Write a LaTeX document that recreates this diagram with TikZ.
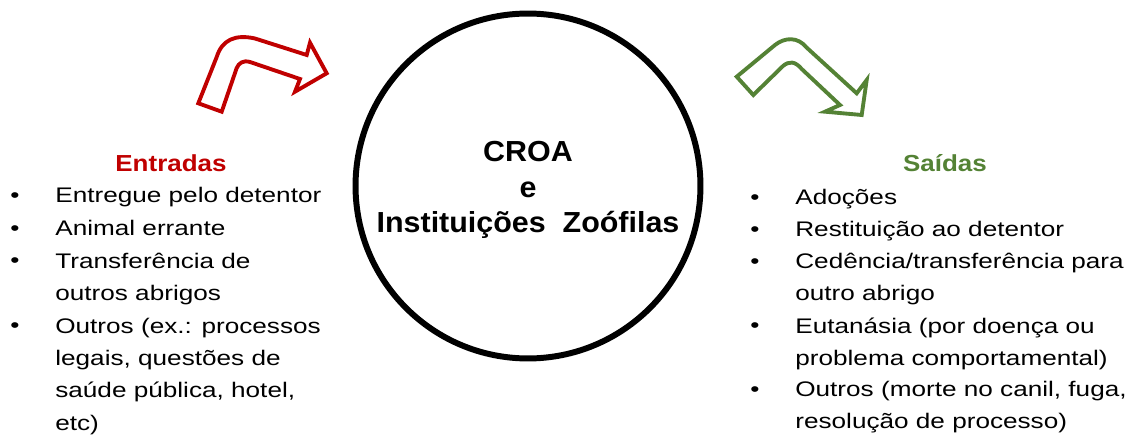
\documentclass[tikz,border=0pt]{standalone}
\usepackage{fontspec}
\setmainfont{Liberation Sans}
\newfontfamily\bodyfont[FakeStretch=1.24]{Liberation Sans}
\newfontfamily\titlefont[FakeStretch=1.12]{Liberation Sans}
\newfontfamily\croafont[FakeStretch=1.05]{Liberation Sans}
\definecolor{entradared}{HTML}{C00000}
\definecolor{saidagreen}{HTML}{548235}
\tikzset{
    croa/.style = {
        draw,
        circle,
        line width=3.4pt,
        minimum size=6.9cm,
        },
    croa text/.style = {
        align=center,
        font=\croafont\bfseries\fontsize{16.5}{20.1}\selectfont,
        },
    title/.style = {
        anchor=base,
        font=\titlefont\bfseries\fontsize{13.2}{16}\selectfont,
        },
    item/.style = {
        anchor=base west,
        align=left,
        inner sep=0pt,
        font=\bodyfont\fontsize{12}{18.4}\selectfont,
        },
    dot/.style = {
        anchor=base,
        inner sep=0pt,
        font=\bodyfont\fontsize{12}{18.4}\selectfont,
        },
    flow/.style = {
        line width=2.2pt,
        line join=miter,
        fill=white,
        },
}
\begin{document}
\begin{tikzpicture}[x=0.02cm, y=-0.02cm]
    \useasboundingbox (0,0) rectangle (1144,435);

    \node[croa] (centro) at (528,186) {};
    \node[croa text] (centro texto) at (528,190) {CROA\\e\\Instituições~~Zoófilas};

    % entradas (base = last line)
    \node[title, text=entradared] (entradas) at (171,171.7) {Entradas};
    \node[item] (in1) at (55,203) {Entregue pelo detentor};
    \node[item] (in2) at (55,235.5) {Animal errante};
    \node[item] (in3) at (55,300.4) {Transferência de\\outros abrigos};
    \node[item] (in4) at (55,430.2) {Outros (ex.: processos\\legais, questões de\\saúde pública, hotel,\\etc)};
    \foreach \y in {203,235.5,268,333}
        \node[dot] at (15,\y) {\textbullet};

    % saidas (base = last line)
    \node[title, text=saidagreen] (saidas) at (945,171.7) {Saídas};
    \node[item] (out1) at (795,205) {Adoções};
    \node[item] (out2) at (795,236.7) {Restituição ao detentor};
    \node[item] (out3) at (795,300.7) {Cedência/transferência para\\outro abrigo};
    \node[item] (out4) at (795,365.4) {Eutanásia (por doença ou\\problema comportamental)};
    \node[item] (out5) at (795,428.5) {Outros (morte no canil, fuga,\\resolução de processo)};
    \foreach \y in {205,236.7,268.3,333,396.7}
        \node[dot] at (755,\y) {\textbullet};

    % setas
    \draw[draw=entradared, flow] (198.3,103.3) -- (216.7,57)
        .. controls (222,40) and (235,34) .. (255,38.5)
        -- (306.7,55) -- (310,42.7) -- (326.7,73.3) -- (295,91.7) -- (300,79)
        -- (250,62) .. controls (243,60) and (239,63) .. (236.7,68)
        -- (221.7,111.7) -- cycle;
    \draw[draw=saidagreen, flow] (736.7,76.7) -- (775,45)
        .. controls (785,37) and (798,37) .. (806,47)
        -- (856.7,93.3) -- (866.7,80) -- (861.7,115) -- (825,111.7) -- (840,105)
        -- (801.7,69) .. controls (795,61) and (789,61) .. (783,66)
        -- (753.3,95) -- cycle;
\end{tikzpicture}
\end{document}
